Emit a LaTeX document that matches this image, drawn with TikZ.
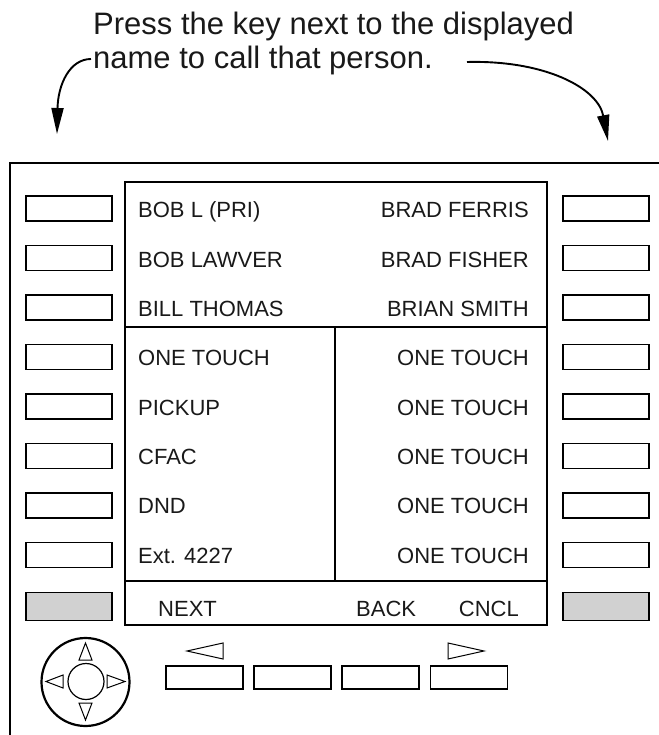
\documentclass[tikz,border=0pt]{standalone}
\usepackage{fontspec}
\setmainfont{Liberation Sans}
\usetikzlibrary{arrows.meta}
\begin{document}
\begin{tikzpicture}[x=1pt,y=-1pt,
  key/.style={draw, line width=1.8pt, minimum width=86pt, minimum height=25pt, inner sep=0pt},
  shadedkey/.style={key, fill=black!18, minimum height=28pt},
  bkey/.style={draw, line width=1.6pt, minimum width=77pt, minimum height=23pt, inner sep=0pt},
  lbl/.style={inner sep=0pt, font=\fontsize{22}{26}\selectfont, text=black!90},
  ttl/.style={inner sep=0pt, font=\fontsize{31}{35}\selectfont, text=black!90},
  callout/.style={line width=1.9pt, -{Triangle[length=26pt,width=12pt]}},
  tri/.style={line width=1pt, line join=miter}
]
\useasboundingbox (0,0) rectangle (658,735);
% title
\node[ttl, anchor=base west] (title1) at (93,35) {Press the key next to the displayed};
\node[ttl, anchor=base west] (title2) at (93,69) {name to call that person.};
\coordinate (lstart) at (91,59);
\coordinate (ltip) at (57,134);
\coordinate (rstart) at (467,62);
\coordinate (rtip) at (608,141);
\draw[callout] (lstart) .. controls (70,59) and (58,84) .. (ltip);
\draw[callout] (rstart) .. controls (545,60) and (598,88) .. (rtip);
% outer frame
\draw[line width=2pt] (10,740) -- (10,163) -- (662,163);
% screen
\node[draw, line width=1.7pt, anchor=north west, minimum width=422pt, minimum height=443pt, inner sep=0pt] (screen) at (124,181) {};
\draw[line width=1.7pt] (124,327) -- (548,327);
\draw[line width=1.7pt] (124,581) -- (546,581);
\draw[line width=1.7pt] (335,327) -- (335,581);
% side keys
\foreach \i in {0,...,7}{
  \node[key] (L\i) at (69,{208.5+49.5*\i}) {};
  \node[key] (R\i) at (606,{208.5+49.5*\i}) {};
}
\node[shadedkey] (L8) at (69,606.5) {};
\node[shadedkey] (R8) at (606,606.5) {};
% left labels
\node[lbl, anchor=base west] (t0) at (138,217.5) {BOB L (PRI)};
\node[lbl, anchor=base west] (t1) at (138,267) {BOB LAWVER};
\node[lbl, anchor=base west] (t2) at (138,316.5) {BILL THOMAS};
\node[lbl, anchor=base west] (t3) at (138,365.5) {ONE TOUCH};
\node[lbl, anchor=base west] (t4) at (138,415) {PICKUP};
\node[lbl, anchor=base west] (t5) at (138,464) {CFAC};
\node[lbl, anchor=base west] (t6) at (138,513) {DND};
\node[lbl, anchor=base west] (t7) at (138,563) {Ext. 4227};
% right labels
\node[lbl, anchor=base east] (u0) at (529,217.5) {BRAD FERRIS};
\node[lbl, anchor=base east] (u1) at (529,267) {BRAD FISHER};
\node[lbl, anchor=base east] (u2) at (529,316.5) {BRIAN SMITH};
\foreach \i in {3,...,7}{
  \node[lbl, anchor=base east] (u\i) at (529,{217.5+49.4*\i}) {ONE TOUCH};
}
% soft keys
\node[lbl, anchor=base west] (next) at (158,616) {NEXT};
\node[lbl, anchor=base west] (back) at (356,616) {BACK};
\node[lbl, anchor=base east] (cncl) at (519,616) {CNCL};
% bottom buttons
\node[bkey] (b1) at (204.5,677.5) {};
\node[bkey] (b2) at (292.5,677.5) {};
\node[bkey] (b3) at (380.5,677.5) {};
\node[bkey] (b4) at (469,677.5) {};
\draw[tri] (187,651) -- (223,643) -- (223,659) -- cycle;
\draw[tri] (484,651) -- (448,643) -- (448,659) -- cycle;
% navigation pad
\node[draw, circle, line width=2.2pt, minimum size=88pt, inner sep=0pt] (joy) at (85.5,682) {};
\node[draw, circle, line width=1.2pt, minimum size=36pt, inner sep=0pt] (joyc) at (86,681.5) {};
\draw[tri] (85.5,643) -- (92,660) -- (79,660) -- cycle;
\draw[tri] (85.5,720) -- (92,703) -- (79,703) -- cycle;
\draw[tri] (46,681.5) -- (63,675) -- (63,688) -- cycle;
\draw[tri] (125,681.5) -- (107,675) -- (107,688) -- cycle;
\end{tikzpicture}
\end{document}
